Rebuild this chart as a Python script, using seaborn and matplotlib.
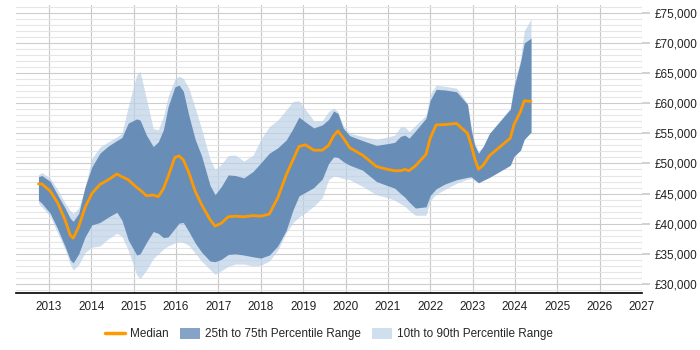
import matplotlib
matplotlib.use("Agg")
import matplotlib.pyplot as plt
import seaborn as sns
import pandas as pd
from matplotlib.patches import Patch
from matplotlib.lines import Line2D
from matplotlib.ticker import MultipleLocator, FuncFormatter

years = [2012.75, 2012.83, 2013.03, 2013.2, 2013.38, 2013.5, 2013.57, 2013.7, 2013.85, 2014.01,
         2014.2, 2014.4, 2014.6, 2014.72, 2014.87, 2015.07, 2015.15, 2015.3, 2015.46, 2015.58,
         2015.7, 2015.81, 2015.97, 2016.07, 2016.17, 2016.3, 2016.45, 2016.6, 2016.8, 2016.92,
         2017.07, 2017.23, 2017.4, 2017.6, 2017.82, 2018.0, 2018.2, 2018.4, 2018.6, 2018.76,
         2018.9, 2019.05, 2019.25, 2019.45, 2019.6, 2019.72, 2019.82, 2019.95, 2020.1, 2020.4,
         2020.73, 2021.0, 2021.16, 2021.3, 2021.4, 2021.5, 2021.65, 2021.9, 2022.0, 2022.14,
         2022.35, 2022.62, 2022.88, 2022.97, 2023.05, 2023.14, 2023.25, 2023.4, 2023.89, 2023.98,
         2024.13, 2024.22, 2024.38]

median = [46600, 46600, 45400, 43500, 40600, 38100, 37600, 39500, 42700, 45000,
          46500, 47300, 48250, 47800, 47300, 46000, 45600, 44650, 44750, 44500,
          45800, 47800, 51000, 51250, 50600, 48500, 45400, 43200, 40700, 39600,
          40100, 41150, 41250, 41150, 41350, 41250, 41600, 44300, 48100, 50600,
          52800, 53100, 52200, 52200, 53000, 54600, 55400, 54200, 52600, 51400,
          49500, 49000, 48800, 48800, 49000, 48800, 49600, 51500, 54200, 56400,
          56450, 56650, 55000, 53000, 50800, 49050, 49700, 51300, 54200, 56500,
          58600, 60400, 60300]

p75 = [47800, 48000, 47000, 44800, 42600, 40900, 40400, 41700, 46100, 49400,
       51700, 52900, 53800, 54300, 56700, 57400, 57200, 54700, 52800, 53600,
       55600, 59400, 62700, 63000, 62000, 58000, 54000, 51300, 46400, 44800,
       46200, 48100, 48000, 47600, 48700, 50100, 51700, 52600, 53900, 55800,
       57700, 56900, 55900, 56400, 57300, 58700, 58300, 55800, 54600, 53800,
       53000, 53300, 53500, 54500, 54700, 54200, 55400, 57500, 60500, 62300,
       62200, 61900, 59800, 55500, 53000, 51700, 52800, 55000, 59000, 62700,
       66800, 70000, 70800]

p25 = [43900, 43400, 41700, 39200, 36200, 34000, 33500, 35000, 37800, 39800,
       40200, 41100, 41900, 40600, 37300, 34800, 35000, 36900, 38700, 38400,
       37700, 37800, 39200, 40100, 40200, 38700, 36800, 35300, 33800, 33700,
       34100, 34900, 35000, 34800, 34500, 34300, 34800, 36300, 38900, 42300,
       44600, 45200, 46000, 47400, 50000, 51100, 51000, 50300, 49700, 48900,
       47000, 46300, 45900, 45000, 44400, 43600, 42600, 42800, 44700, 45800,
       46600, 47300, 47700, 47800, 47300, 46800, 47200, 47700, 49700, 51200,
       52200, 54000, 55200]

p90 = [48100, 48500, 47500, 45700, 43400, 42200, 41700, 42600, 46000, 50800,
       52700, 53600, 54400, 55000, 59400, 64700, 65300, 60700, 55800, 55600,
       57800, 61100, 64000, 64500, 64100, 62500, 59200, 55800, 50700, 49000,
       49900, 51300, 51400, 50400, 51400, 54000, 56100, 57200, 58900, 60300,
       60400, 59000, 57100, 57100, 58600, 59200, 58600, 56200, 55000, 54500,
       54000, 54400, 54700, 56100, 56100, 55300, 56300, 58000, 61400, 63000,
       62800, 62500, 60000, 56000, 53500, 52000, 52900, 55000, 59200, 63300,
       67200, 72000, 74000]

p10 = [43400, 42800, 41200, 38500, 35700, 33300, 32300, 33200, 35200, 36100,
       36300, 37500, 38400, 37900, 35600, 31500, 30900, 32300, 34200, 35000,
       35800, 36300, 36800, 37000, 36900, 36400, 35100, 33800, 32400, 31600,
       32200, 32900, 33300, 33300, 33000, 33100, 33800, 35600, 38500, 40200,
       41100, 41800, 42900, 44300, 47300, 47900, 47800, 47500, 47300, 46200,
       44800, 44300, 43900, 43300, 42900, 42200, 41400, 41400, 43800, 44900,
       45700, 46700, 47400, 47500, 47200, 46800, 47200, 47700, 49700, 51200,
       52200, 54000, 55200]

x_ticks = list(range(2013, 2028))
legend_labels = ["Median", "25th to 75th Percentile Range", "10th to 90th Percentile Range"]

df = pd.DataFrame({"year": years, "median": median, "p25": p25, "p75": p75,
                   "p10": p10, "p90": p90})

sns.set_theme(style="white")
plt.rcParams["font.family"] = ["Liberation Sans", "DejaVu Sans"]

fig = plt.figure(figsize=(7, 3.5), dpi=100)
ax = fig.add_axes([16 / 700, 1 - 293 / 350, (642 - 16) / 700, (293 - 5) / 350])

light = "#bcd1e7"
dark = "#5d86b2"
orange = "#ff9900"

ax.fill_between(df["year"], df["p10"], df["p90"], color=light, alpha=0.7, linewidth=0, zorder=2)
ax.fill_between(df["year"], df["p25"], df["p75"], color=dark, alpha=0.9, linewidth=0, zorder=3)
sns.lineplot(data=df, x="year", y="median", ax=ax, color=orange, linewidth=2, zorder=4)

ax.set_xlim(2012.22, 2027)
ax.set_ylim(28500, 76300)
ax.set_xticks(x_ticks)
ax.set_xticklabels([str(t) for t in x_ticks])
ax.yaxis.set_major_locator(MultipleLocator(5000))
ax.yaxis.set_minor_locator(MultipleLocator(1000))
ax.yaxis.set_major_formatter(FuncFormatter(lambda v, p: "£{:,.0f}".format(v)))
ax.yaxis.tick_right()
ax.yaxis.set_label_position("right")
ax.set_xlabel("")
ax.set_ylabel("")

ax.grid(True, which="major", axis="x", color="#c8c8c8", linewidth=0.8, zorder=1)
ax.grid(True, which="major", axis="y", color="#cccccc", linewidth=0.8, zorder=1)
ax.grid(True, which="minor", axis="y", color="#e6e6e6", linewidth=0.8, zorder=1)
ax.set_axisbelow(True)

for s in ["top", "left", "right"]:
    ax.spines[s].set_visible(False)
ax.spines["bottom"].set_color("#000000")
ax.spines["bottom"].set_linewidth(1.2)

ax.tick_params(axis="x", which="major", length=0, labelsize=8.5, colors="#222222", pad=6)
ax.tick_params(axis="y", which="major", length=6, color="#cccccc", labelsize=8.5,
               labelcolor="#222222", pad=3, right=True, left=False)
ax.tick_params(axis="y", which="minor", length=0)

handles = [Line2D([0], [0], color=orange, linewidth=2.5),
           Patch(facecolor="#84a3c6", edgecolor="none"),
           Patch(facecolor="#d0dfee", edgecolor="none")]
fig.legend(handles, legend_labels, loc="center", bbox_to_anchor=(329 / 700, 1 - 334 / 350),
           ncol=3, frameon=False, fontsize=8.5, handlelength=1.7, handleheight=1.1,
           columnspacing=0.9, handletextpad=0.45)

fig.savefig("out.png", dpi=100)
